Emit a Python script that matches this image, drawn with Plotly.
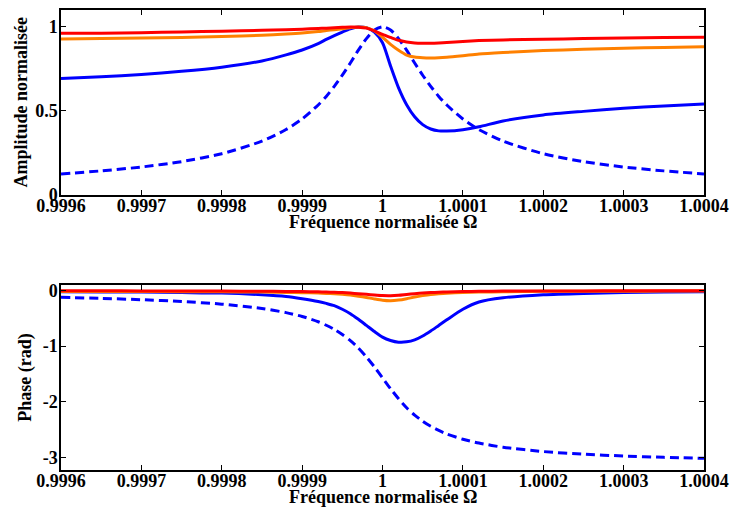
import plotly.graph_objects as go
from plotly.subplots import make_subplots

# Normalised frequency
freq = [0.9996, 0.99965, 0.9997, 0.99975, 0.9998, 0.99985, 0.99988, 0.9999,
        0.99992, 0.99993, 0.99994, 0.99995, 0.99996, 0.99997, 0.99998, 0.99999,
        1.0, 1.00001, 1.00002, 1.00003, 1.00004, 1.00005, 1.00006, 1.00007,
        1.00008, 1.0001, 1.00012, 1.00015, 1.0002, 1.00025, 1.0003, 1.00035, 1.0004]

# Amplitude normalisée
amp_dashed = [0.125, 0.143, 0.166, 0.198, 0.245, 0.320, 0.389, 0.452, 0.535, 0.586, 0.646,
              0.712, 0.785, 0.861, 0.930, 0.981, 1.000, 0.981, 0.930, 0.861, 0.785, 0.712,
              0.646, 0.586, 0.535, 0.452, 0.389, 0.320, 0.245, 0.198, 0.166, 0.143, 0.125]
amp_blue = [0.693, 0.703, 0.716, 0.735, 0.760, 0.797, 0.833, 0.862, 0.900, 0.925, 0.948,
            0.969, 0.988, 0.999, 0.995, 0.968, 0.905, 0.767, 0.637, 0.537, 0.465, 0.418,
            0.392, 0.381, 0.380, 0.388, 0.405, 0.440, 0.476, 0.497, 0.515, 0.529, 0.541]
amp_orange = [0.928, 0.930, 0.933, 0.937, 0.942, 0.950, 0.957, 0.963, 0.972, 0.978, 0.983,
              0.989, 0.995, 0.999, 0.995, 0.975, 0.938, 0.895, 0.860, 0.832, 0.820, 0.816,
              0.815, 0.816, 0.819, 0.828, 0.838, 0.847, 0.859, 0.866, 0.873, 0.877, 0.881]
amp_red = [0.961, 0.962, 0.965, 0.969, 0.974, 0.979, 0.983, 0.986, 0.990, 0.992, 0.994,
           0.997, 0.999, 0.998, 0.992, 0.976, 0.955, 0.937, 0.920, 0.910, 0.904, 0.902,
           0.902, 0.904, 0.907, 0.913, 0.918, 0.922, 0.926, 0.930, 0.933, 0.936, 0.938]

# Phase (rad)
ph_dashed = [-0.126, -0.144, -0.168, -0.201, -0.248, -0.326, -0.400, -0.469, -0.564, -0.627,
             -0.701, -0.793, -0.903, -1.035, -1.196, -1.376, -1.571, -1.766, -1.946, -2.107,
             -2.239, -2.349, -2.441, -2.515, -2.578, -2.673, -2.742, -2.816, -2.894, -2.941,
             -2.974, -2.998, -3.016]
ph_blue = [-0.025, -0.028, -0.032, -0.040, -0.050, -0.080, -0.110, -0.150, -0.200, -0.235,
           -0.275, -0.340, -0.420, -0.520, -0.630, -0.740, -0.840, -0.900, -0.930, -0.925,
           -0.890, -0.820, -0.730, -0.630, -0.530, -0.340, -0.210, -0.135, -0.080, -0.055,
           -0.040, -0.032, -0.027]
ph_orange = [-0.020, -0.021, -0.022, -0.024, -0.027, -0.032, -0.037, -0.042, -0.050, -0.055,
             -0.062, -0.072, -0.085, -0.105, -0.128, -0.155, -0.178, -0.187, -0.175, -0.150,
             -0.120, -0.095, -0.075, -0.062, -0.052, -0.040, -0.032, -0.025, -0.018, -0.016,
             -0.015, -0.014, -0.013]
ph_red = [-0.008, -0.009, -0.010, -0.011, -0.013, -0.016, -0.019, -0.022, -0.027, -0.031,
          -0.035, -0.041, -0.050, -0.060, -0.072, -0.085, -0.095, -0.097, -0.090, -0.075,
          -0.060, -0.048, -0.040, -0.034, -0.029, -0.022, -0.018, -0.014, -0.011, -0.010,
          -0.009, -0.008, -0.008]

x_tickvals = [0.9996, 0.9997, 0.9998, 0.9999, 1.0, 1.0001, 1.0002, 1.0003, 1.0004]
x_ticktext = ["0.9996", "0.9997", "0.9998", "0.9999", "1", "1.0001", "1.0002", "1.0003", "1.0004"]
amp_tickvals = [0, 0.5, 1]
amp_ticktext = ["0", "0.5", "1"]
ph_tickvals = [0, -1, -2, -3]
ph_ticktext = ["0", "-1", "-2", "-3"]

x_title = "Fréquence normalisée Ω"
amp_title = "Amplitude normalisée"
ph_title = "Phase (rad)"

BLUE = "#0000FF"
ORANGE = "#FF8000"
RED = "#FF0000"
FONT = "Liberation Serif"

fig = make_subplots(rows=2, cols=1)

series = [
    (amp_dashed, ph_dashed, BLUE, "9px,5px"),
    (amp_blue, ph_blue, BLUE, "solid"),
    (amp_orange, ph_orange, ORANGE, "solid"),
    (amp_red, ph_red, RED, "solid"),
]
for amp, ph, col, dash in series:
    fig.add_trace(go.Scatter(x=freq, y=amp, mode="lines",
                             line=dict(color=col, width=3, dash=dash, shape="spline", smoothing=0.7),
                             showlegend=False), row=1, col=1)
    fig.add_trace(go.Scatter(x=freq, y=ph, mode="lines",
                             line=dict(color=col, width=3, dash=dash, shape="spline", smoothing=0.7),
                             showlegend=False), row=2, col=1)

axis_common = dict(showline=True, linecolor="black", linewidth=1.5, mirror="ticks",
                   ticks="inside", ticklen=5, tickwidth=1, tickcolor="black",
                   showgrid=False, zeroline=False, ticklabeloverflow="allow",
                   tickfont=dict(family=FONT, size=18, color="black", weight="bold"))

for r in (1, 2):
    fig.update_xaxes(range=[0.9996, 1.0004], tickvals=x_tickvals, ticktext=x_ticktext,
                     ticklabelstandoff=-6, row=r, col=1, **axis_common)

fig.update_yaxes(range=[0, 1.1], tickvals=amp_tickvals, ticktext=amp_ticktext,
                 ticklabelstandoff=-2, row=1, col=1, **axis_common)
fig.update_yaxes(range=[-3.225, 0.09], tickvals=ph_tickvals, ticktext=ph_ticktext,
                 ticklabelstandoff=-2, row=2, col=1, **axis_common)

fig.update_layout(
    width=734, height=515,
    margin=dict(l=61, r=29, t=5, b=45),
    paper_bgcolor="white", plot_bgcolor="white",
    font=dict(family=FONT, size=18, color="black"),
)
fig.update_layout(
    xaxis=dict(domain=[0, 1]), xaxis2=dict(domain=[0, 1]),
    yaxis=dict(domain=[0.598, 1.0]), yaxis2=dict(domain=[0.0, 0.4015]),
)

title_font = dict(family=FONT, size=18, color="black", weight="bold")
for xr, yr in (("x domain", "y domain"), ("x2 domain", "y2 domain")):
    fig.add_annotation(text=x_title, x=0.5, xref=xr, y=0, yref=yr,
                       xanchor="center", yanchor="middle", yshift=-27,
                       showarrow=False, font=title_font)
fig.add_annotation(text=amp_title, x=0, xref="x domain", y=0.5, yref="y domain",
                   xanchor="center", yanchor="middle", xshift=-40, textangle=-90,
                   showarrow=False, font=title_font)
fig.add_annotation(text=ph_title, x=0, xref="x2 domain", y=0.5, yref="y2 domain",
                   xanchor="center", yanchor="middle", xshift=-35, textangle=-90,
                   showarrow=False, font=title_font)

fig.write_html("out.html", config={"displayModeBar": False},
               post_script="document.body.style.margin='0';document.body.style.padding='0';")
